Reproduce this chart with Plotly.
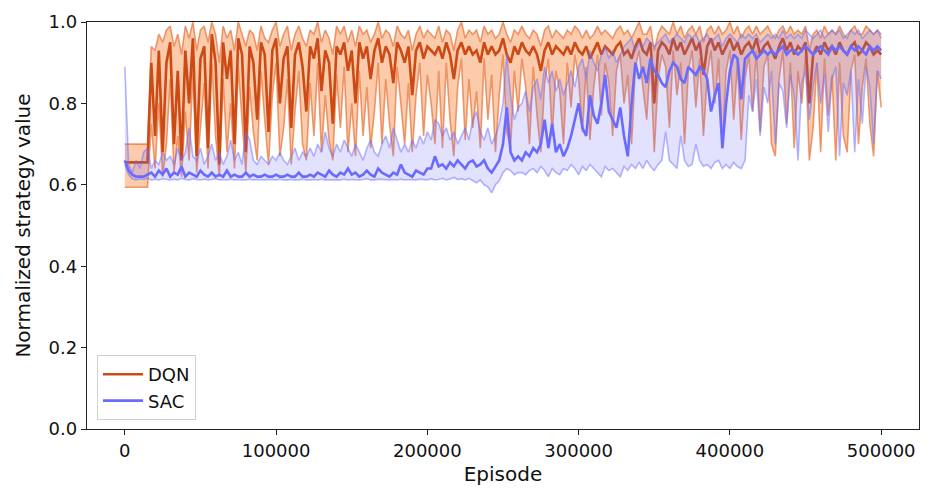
import plotly.graph_objects as go

# Episode axis: one sample every 2500 episodes
episodes = list(range(0, 500001, 2500))

dqn_mean = [
    0.655, 0.655, 0.655, 0.655, 0.655, 0.655, 0.655, 0.90,
    0.72, 0.93, 0.68, 0.90, 0.95, 0.70, 0.88, 0.66, 0.93, 0.80, 0.96, 0.67, 0.91,
    0.94, 0.69, 0.97, 0.90, 0.65, 0.95, 0.86, 0.93, 0.70, 0.96, 0.92, 0.68,
    0.94, 0.90, 0.76, 0.95, 0.92, 0.73, 0.93, 0.96, 0.80, 0.91, 0.94, 0.74,
    0.92, 0.95, 0.89, 0.78, 0.94, 0.91, 0.96, 0.83, 0.93, 0.90, 0.75, 0.94,
    0.92, 0.95, 0.88, 0.93, 0.80, 0.95, 0.91, 0.94, 0.86, 0.93, 0.96, 0.90,
    0.94, 0.92, 0.85, 0.95, 0.93, 0.90, 0.94, 0.82, 0.93, 0.95, 0.91, 0.94,
    0.93, 0.92, 0.94, 0.91, 0.95, 0.92, 0.86, 0.93, 0.95, 0.92, 0.94, 0.92,
    0.93, 0.90, 0.95, 0.92, 0.94, 0.92, 0.93, 0.96, 0.92, 0.90, 0.94, 0.92,
    0.95, 0.93, 0.92, 0.94, 0.92, 0.88, 0.93, 0.95, 0.92, 0.94, 0.93, 0.92,
    0.94, 0.92, 0.95, 0.93, 0.92, 0.94, 0.91, 0.93, 0.95, 0.92, 0.94, 0.93,
    0.92, 0.94, 0.95, 0.92, 0.93, 0.91, 0.94, 0.96, 0.93, 0.92, 0.95, 0.80,
    0.93, 0.95, 0.94, 0.92, 0.96, 0.93, 0.95, 0.92, 0.94, 0.96, 0.93, 0.95,
    0.87, 0.94, 0.96, 0.93, 0.95, 0.92, 0.94, 0.96, 0.93, 0.95, 0.92, 0.94,
    0.95, 0.93, 0.96, 0.92, 0.94, 0.95, 0.93, 0.91, 0.94, 0.96, 0.93, 0.95,
    0.92, 0.94, 0.93, 0.95, 0.80, 0.92, 0.94, 0.92, 0.95, 0.93, 0.94, 0.92,
    0.95, 0.93, 0.92, 0.94, 0.95, 0.92, 0.93, 0.95, 0.94, 0.92, 0.93, 0.92,
]

dqn_upper = [
    0.70, 0.70, 0.70, 0.70, 0.70, 0.70, 0.70, 0.94,
    0.93, 0.97, 0.95, 0.98, 0.99, 0.94, 0.97, 0.92, 0.99, 0.96, 1.00, 0.93, 0.98,
    0.99, 0.95, 1.00, 0.97, 0.90, 0.99, 0.96, 0.98, 0.93, 1.00, 0.97, 0.94,
    0.98, 0.97, 0.93, 0.99, 0.96, 0.95, 0.98, 1.00, 0.94, 0.97, 0.99, 0.93,
    0.97, 0.99, 0.96, 0.94, 0.98, 0.97, 1.00, 0.95, 0.98, 0.96, 0.92, 0.99,
    0.97, 0.99, 0.95, 0.98, 0.94, 0.99, 0.97, 0.98, 0.95, 0.97, 1.00, 0.96,
    0.98, 0.97, 0.94, 0.99, 0.97, 0.96, 0.98, 0.93, 0.97, 0.99, 0.96, 0.98,
    0.97, 0.96, 0.99, 0.95, 0.98, 0.97, 0.93, 0.98, 1.00, 0.96, 0.98, 0.97,
    0.98, 0.95, 0.99, 0.97, 0.98, 0.96, 0.97, 1.00, 0.97, 0.95, 0.98, 0.97,
    0.99, 0.97, 0.96, 0.98, 0.97, 0.94, 0.98, 0.99, 0.96, 0.98, 0.97, 0.96,
    0.98, 0.97, 0.99, 0.98, 0.96, 0.98, 0.96, 0.97, 0.99, 0.97, 0.98, 0.97,
    0.96, 0.98, 0.99, 0.97, 0.98, 0.96, 0.98, 1.00, 0.97, 0.97, 0.99, 0.93,
    0.97, 0.99, 0.98, 0.97, 1.00, 0.97, 0.99, 0.96, 0.98, 0.99, 0.97, 0.99,
    0.95, 0.98, 0.99, 0.97, 0.99, 0.97, 0.98, 1.00, 0.97, 0.99, 0.96, 0.98,
    0.99, 0.97, 0.99, 0.97, 0.98, 0.99, 0.97, 0.96, 0.98, 0.99, 0.97, 0.99,
    0.97, 0.98, 0.97, 0.99, 0.93, 0.97, 0.98, 0.96, 0.99, 0.97, 0.98, 0.97,
    0.99, 0.97, 0.96, 0.98, 0.99, 0.97, 0.97, 0.99, 0.98, 0.97, 0.98, 0.97,
]

dqn_lower = [
    0.594, 0.594, 0.594, 0.594, 0.594, 0.594, 0.594, 0.75,
    0.64, 0.80, 0.62, 0.70, 0.86, 0.63, 0.72, 0.62, 0.78, 0.66, 0.88, 0.63, 0.74,
    0.85, 0.64, 0.90, 0.72, 0.62, 0.86, 0.68, 0.80, 0.64, 0.89, 0.75, 0.63,
    0.84, 0.73, 0.66, 0.88, 0.76, 0.65, 0.82, 0.90, 0.67, 0.74, 0.86, 0.65,
    0.78, 0.88, 0.70, 0.66, 0.85, 0.72, 0.90, 0.68, 0.82, 0.71, 0.66, 0.87,
    0.74, 0.89, 0.68, 0.80, 0.67, 0.88, 0.72, 0.84, 0.69, 0.78, 0.90, 0.70,
    0.86, 0.75, 0.67, 0.89, 0.80, 0.70, 0.85, 0.68, 0.82, 0.90, 0.72, 0.87,
    0.80, 0.70, 0.88, 0.69, 0.90, 0.76, 0.67, 0.84, 0.91, 0.71, 0.86, 0.74,
    0.83, 0.69, 0.91, 0.76, 0.87, 0.68, 0.82, 0.92, 0.73, 0.69, 0.88, 0.78,
    0.91, 0.84, 0.70, 0.89, 0.77, 0.68, 0.85, 0.91, 0.72, 0.88, 0.83, 0.70,
    0.90, 0.79, 0.92, 0.86, 0.73, 0.89, 0.71, 0.84, 0.92, 0.77, 0.90, 0.85,
    0.72, 0.88, 0.92, 0.80, 0.87, 0.70, 0.89, 0.93, 0.84, 0.76, 0.91, 0.68,
    0.86, 0.92, 0.89, 0.74, 0.93, 0.82, 0.90, 0.70, 0.88, 0.93, 0.79, 0.91,
    0.72, 0.87, 0.93, 0.80, 0.91, 0.69, 0.88, 0.93, 0.76, 0.90, 0.71, 0.86,
    0.92, 0.78, 0.93, 0.73, 0.89, 0.92, 0.70, 0.67, 0.86, 0.93, 0.75, 0.90,
    0.69, 0.88, 0.80, 0.92, 0.66, 0.74, 0.90, 0.68, 0.91, 0.77, 0.87, 0.66,
    0.90, 0.72, 0.68, 0.88, 0.92, 0.70, 0.84, 0.91, 0.75, 0.67, 0.88, 0.79,
]

sac_mean = [
    0.66, 0.635, 0.625, 0.62, 0.62, 0.62, 0.625, 0.63,
    0.62, 0.635, 0.625, 0.64, 0.62, 0.63, 0.625, 0.645, 0.62, 0.63, 0.625, 0.62, 0.635,
    0.625, 0.62, 0.63, 0.62, 0.625, 0.62, 0.635, 0.62, 0.625, 0.62, 0.62, 0.63,
    0.62, 0.625, 0.62, 0.62, 0.625, 0.62, 0.62, 0.625, 0.62, 0.62, 0.625, 0.62,
    0.62, 0.63, 0.62, 0.62, 0.625, 0.62, 0.63, 0.625, 0.62, 0.635, 0.625, 0.62,
    0.63, 0.625, 0.64, 0.625, 0.63, 0.62, 0.625, 0.635, 0.625, 0.62, 0.64, 0.63,
    0.625, 0.62, 0.63, 0.625, 0.65, 0.63, 0.625, 0.62, 0.635, 0.63, 0.625, 0.64,
    0.64, 0.67, 0.645, 0.65, 0.64, 0.655, 0.645, 0.66, 0.65, 0.64, 0.655, 0.66,
    0.645, 0.65, 0.66, 0.64, 0.63, 0.645, 0.66, 0.70, 0.79, 0.68, 0.66, 0.67,
    0.66, 0.68, 0.67, 0.69, 0.68, 0.70, 0.76, 0.69, 0.75, 0.68, 0.70, 0.67,
    0.69, 0.72, 0.76, 0.80, 0.74, 0.72, 0.82, 0.77, 0.75, 0.80, 0.87, 0.78,
    0.76, 0.74, 0.79, 0.72, 0.67, 0.80, 0.90, 0.86, 0.89, 0.85, 0.91, 0.88,
    0.87, 0.85, 0.84, 0.88, 0.90, 0.89, 0.86, 0.85, 0.89, 0.88, 0.87, 0.89,
    0.88, 0.86, 0.78, 0.82, 0.85, 0.69, 0.80, 0.88, 0.92, 0.91, 0.81, 0.91,
    0.92, 0.93, 0.91, 0.92, 0.93, 0.92, 0.93, 0.92, 0.93, 0.94, 0.92, 0.93,
    0.93, 0.92, 0.93, 0.94, 0.93, 0.92, 0.93, 0.94, 0.93, 0.92, 0.94, 0.93,
    0.94, 0.93, 0.92, 0.94, 0.93, 0.94, 0.93, 0.92, 0.94, 0.93, 0.94, 0.93,
]

sac_upper = [
    0.89, 0.65, 0.63, 0.66, 0.64, 0.68, 0.69, 0.64,
    0.66, 0.65, 0.68, 0.66, 0.67, 0.65, 0.69, 0.66, 0.68, 0.74, 0.67, 0.66, 0.69,
    0.65, 0.67, 0.70, 0.66, 0.68, 0.65, 0.67, 0.71, 0.66, 0.68, 0.65, 0.73,
    0.71, 0.66, 0.65, 0.67, 0.66, 0.65, 0.67, 0.66, 0.68, 0.66, 0.65, 0.67,
    0.69, 0.66, 0.68, 0.67, 0.69, 0.67, 0.70, 0.68, 0.73, 0.69, 0.67, 0.70,
    0.68, 0.71, 0.69, 0.67, 0.70, 0.68, 0.66, 0.69, 0.71, 0.68, 0.67, 0.70,
    0.72, 0.69, 0.74, 0.71, 0.68, 0.70, 0.68, 0.71, 0.69, 0.72, 0.70, 0.73,
    0.71, 0.76, 0.75, 0.72, 0.74, 0.71, 0.73, 0.70, 0.72, 0.74, 0.71, 0.76,
    0.78, 0.73, 0.71, 0.74, 0.70, 0.72, 0.75, 0.80, 0.92, 0.82, 0.76, 0.79,
    0.80, 0.83, 0.78, 0.84, 0.86, 0.81, 0.89, 0.85, 0.88, 0.83, 0.86, 0.82,
    0.85, 0.88, 0.84, 0.89, 0.91, 0.86, 0.93, 0.90, 0.88, 0.92, 0.94, 0.91,
    0.93, 0.90, 0.92, 0.94, 0.95, 0.96, 0.93, 0.95, 0.94, 0.96, 0.95, 0.94,
    0.95, 0.96, 0.97, 0.95, 0.96, 0.97, 0.96, 0.95, 0.97, 0.96, 0.97, 0.95,
    0.96, 0.97, 0.95, 0.96, 0.97, 0.94, 0.96, 0.97, 0.96, 0.95, 0.97, 0.96,
    0.97, 0.96, 0.97, 0.95, 0.96, 0.97, 0.96, 0.97, 0.96, 0.98, 0.96, 0.97,
    0.96, 0.97, 0.96, 0.98, 0.97, 0.96, 0.97, 0.98, 0.96, 0.97, 0.98, 0.97,
    0.98, 0.96, 0.97, 0.98, 0.97, 0.98, 0.96, 0.97, 0.98, 0.97, 0.98, 0.96,
]

sac_lower = [
    0.65, 0.625, 0.615, 0.612, 0.615, 0.613, 0.616, 0.612,
    0.614, 0.612, 0.615, 0.613, 0.612, 0.614, 0.612, 0.616, 0.613, 0.612, 0.615, 0.613, 0.612,
    0.614, 0.612, 0.613, 0.615, 0.612, 0.613, 0.612, 0.614, 0.612, 0.613, 0.612, 0.612,
    0.614, 0.612, 0.613, 0.612, 0.612, 0.613, 0.612, 0.612, 0.614, 0.612, 0.612, 0.613,
    0.612, 0.612, 0.614, 0.612, 0.612, 0.613, 0.612, 0.614, 0.612, 0.612, 0.613, 0.612,
    0.612, 0.614, 0.612, 0.613, 0.612, 0.612, 0.613, 0.615, 0.612, 0.612, 0.614, 0.613,
    0.612, 0.612, 0.613, 0.612, 0.614, 0.612, 0.613, 0.612, 0.612, 0.614, 0.613, 0.612,
    0.615, 0.612, 0.613, 0.616, 0.612, 0.614, 0.618, 0.613, 0.615, 0.612, 0.616, 0.61,
    0.605, 0.612, 0.60, 0.595, 0.58, 0.60, 0.61, 0.63, 0.64, 0.635, 0.625, 0.63,
    0.63, 0.625, 0.635, 0.64, 0.63, 0.645, 0.635, 0.62, 0.64, 0.63, 0.625, 0.64,
    0.635, 0.65, 0.64, 0.625, 0.645, 0.635, 0.65, 0.64, 0.63, 0.62, 0.645, 0.635,
    0.64, 0.63, 0.62, 0.645, 0.635, 0.65, 0.64, 0.655, 0.64, 0.66, 0.645, 0.635,
    0.65, 0.66, 0.73, 0.66, 0.65, 0.64, 0.72, 0.66, 0.645, 0.65, 0.70, 0.66,
    0.645, 0.65, 0.64, 0.655, 0.66, 0.64, 0.65, 0.64, 0.655, 0.645, 0.64, 0.66,
    0.82, 0.78, 0.86, 0.72, 0.84, 0.80, 0.88, 0.70, 0.85, 0.83, 0.74, 0.87,
    0.82, 0.66, 0.85, 0.88, 0.76, 0.84, 0.90, 0.80, 0.87, 0.73, 0.86, 0.89,
    0.67, 0.85, 0.82, 0.88, 0.68, 0.86, 0.75, 0.89, 0.84, 0.70, 0.88, 0.86,
]

series = [
    ("DQN", dqn_mean, dqn_upper, dqn_lower,
     "#cc4a14", "rgba(232,122,66,0.75)", "rgba(246,140,72,0.45)"),
    ("SAC", sac_mean, sac_upper, sac_lower,
     "#6a6aff", "rgba(110,110,255,0.5)", "rgba(110,110,255,0.2)"),
]

fig = go.Figure()
for name, mean, upper, lower, col, edge, fill in series:
    fig.add_trace(go.Scatter(
        x=episodes, y=upper, mode="lines", line=dict(color=edge, width=1.6),
        showlegend=False, hoverinfo="skip"))
    fig.add_trace(go.Scatter(
        x=episodes, y=lower, mode="lines", line=dict(color=edge, width=1.6),
        fill="tonexty", fillcolor=fill, showlegend=False, hoverinfo="skip"))
    fig.add_trace(go.Scatter(
        x=episodes, y=mean, mode="lines", name=name,
        line=dict(color=col, width=2.6)))

axis_common = dict(
    showgrid=False, zeroline=False, showline=True, mirror=True,
    linecolor="#222", linewidth=1.3, ticks="outside", ticklen=5,
    tickcolor="#222", tickfont=dict(size=18, color="#111"),
)

fig.update_layout(
    width=931, height=493,
    margin=dict(l=87, r=11, t=17, b=62),
    paper_bgcolor="white", plot_bgcolor="white",
    font=dict(family="DejaVu Sans", color="#111"),
    xaxis=dict(range=[-25000, 525000], tickvals=[0, 100000, 200000, 300000, 400000, 500000],
               ticktext=["0", "100000", "200000", "300000", "400000", "500000"],
               title=dict(text="Episode", font=dict(size=20), standoff=7), **axis_common),
    yaxis=dict(range=[0, 1], tickvals=[0, 0.2, 0.4, 0.6, 0.8, 1.0],
               ticktext=["0.0", "0.2", "0.4", "0.6", "0.8", "1.0"],
               title=dict(text="Normalized strategy value", font=dict(size=20), standoff=12),
               **axis_common),
    legend=dict(x=0.012, y=0.022, xanchor="left", yanchor="bottom",
                traceorder="normal",
                bgcolor="white", bordercolor="#d0d0d0", borderwidth=1,
                font=dict(size=18), itemwidth=40),
)

fig.write_html("out.html")
